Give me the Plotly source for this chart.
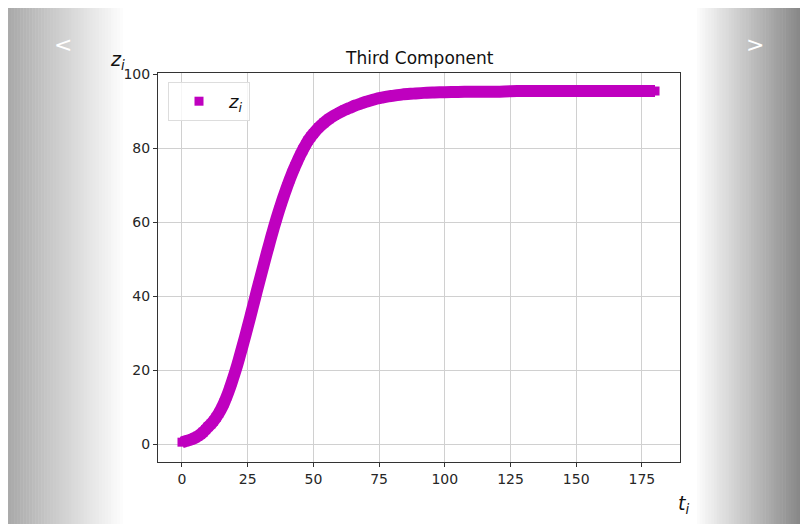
import plotly.graph_objects as go

# ---- data ----
t_vals = [0, 1, 2, 3, 4, 5, 6, 7, 8, 9, 10, 11, 12, 13, 14, 15, 16, 17, 18, 19,
          20, 21, 22, 23, 24, 25, 26, 27, 28, 29, 30, 31, 32, 33, 34, 35, 36, 37,
          38, 39, 40, 41, 42, 43, 44, 45, 46, 47, 48, 49, 50, 52, 54, 56, 58, 60,
          62, 64, 66, 68, 70, 72, 74, 76, 78, 80, 84, 88, 92, 96, 100, 105, 110,
          115, 120, 125, 130, 135, 140, 145, 150, 155, 160, 165, 170, 175, 180]
z_vals = [0.5, 0.7, 0.9, 1.1, 1.4, 1.7, 2.1, 2.6, 3.2, 3.9, 4.7, 5.4, 6.2, 7.2, 8.3,
          9.6, 11.1, 12.8, 14.7, 16.8, 19.0, 21.3, 23.8, 26.4, 29.0, 31.7, 34.4,
          37.2, 40.0, 42.8, 45.5, 48.2, 50.9, 53.5, 56.1, 58.6, 61.0, 63.3, 65.5,
          67.6, 69.6, 71.5, 73.3, 75.0, 76.6, 78.1, 79.5, 80.8, 82.0, 83.0, 83.9,
          85.5, 86.8, 87.9, 88.8, 89.6, 90.3, 90.9, 91.5, 92.0, 92.5, 92.9, 93.3,
          93.6, 93.9, 94.1, 94.5, 94.7, 94.9, 95.0, 95.1, 95.15, 95.2, 95.2, 95.2,
          95.35, 95.4, 95.4, 95.4, 95.4, 95.4, 95.4, 95.4, 95.4, 95.4, 95.4, 95.4]
x_ticks = [0, 25, 50, 75, 100, 125, 150, 175]
y_ticks = [0, 20, 40, 60, 80, 100]
title_text = "Third Component"
legend_label = "<i>z</i><sub><i>i</i></sub>"

# reference-page geometry (the page has an 8px body margin)
OFF = 8
W_REF, H_REF = 808, 524
L, R, T, B = 158, 680, 73, 462   # plot area in page pixels
def px(x):
    return (x - L) / (R - L)
def py(y):
    return (B - y) / (B - T)

MAG = "#bf00bf"

fig = go.Figure()
fig.add_trace(go.Scatter(x=t_vals, y=z_vals, mode="markers", name=legend_label,
                         marker=dict(symbol="square", size=9, color=MAG)))
fig.add_trace(go.Scatter(x=t_vals, y=z_vals, mode="lines",
                         line=dict(color=MAG, width=12, shape="spline", smoothing=0.6),
                         showlegend=False, hoverinfo="skip"))

shapes = []
N = 40
lx0, lx1 = 5, 126
for i in range(N):
    a = lx0 + (lx1 - lx0) * i / N
    b = lx0 + (lx1 - lx0) * (i + 1) / N
    f = i / (N - 1)
    g = int(168 + (255 - 168) * f)
    shapes.append(dict(type="rect", xref="paper", yref="paper", layer="below",
                       x0=px(a), x1=px(b) + 0.001, y0=py(H_REF + 5), y1=py(3),
                       line=dict(width=0), fillcolor=f"rgb({g},{g},{g})"))
rx0, rx1 = 694, 808
for i in range(N):
    a = rx0 + (rx1 - rx0) * i / N
    b = rx0 + (rx1 - rx0) * (i + 1) / N
    f = i / (N - 1)
    g = int(255 - (255 - 128) * f)
    shapes.append(dict(type="rect", xref="paper", yref="paper", layer="below",
                       x0=px(a), x1=px(b) + 0.001, y0=py(H_REF + 5), y1=py(3),
                       line=dict(width=0), fillcolor=f"rgb({g},{g},{g})"))

annotations = [
    dict(text=title_text, xref="paper", yref="paper", x=0.5, y=py(58),
         showarrow=False, font=dict(size=17, color="#111111"),
         xanchor="center", yanchor="middle"),
    dict(text="<i>z</i><sub><i>i</i></sub>", xref="paper", yref="paper",
         x=px(117), y=py(60), showarrow=False, font=dict(size=19, color="#111111"),
         xanchor="center", yanchor="middle"),
    dict(text="<i>t</i><sub><i>i</i></sub>", xref="paper", yref="paper",
         x=px(683), y=py(504), showarrow=False, font=dict(size=19, color="#111111"),
         xanchor="center", yanchor="middle"),
    dict(text="<", xref="paper", yref="paper", x=px(63), y=py(45),
         showarrow=False, font=dict(size=22, color="white"),
         xanchor="center", yanchor="middle"),
    dict(text=">", xref="paper", yref="paper", x=px(755), y=py(45),
         showarrow=False, font=dict(size=22, color="white"),
         xanchor="center", yanchor="middle"),
]

axis_common = dict(showgrid=True, gridcolor="#d0d0d0", gridwidth=1,
                   showline=True, linecolor="#333333", linewidth=1, mirror=True,
                   ticks="outside", ticklen=4, tickcolor="#333333",
                   tickfont=dict(size=14, color="#262626"), zeroline=False)

fig.update_layout(
    width=W_REF - OFF, height=H_REF - OFF,
    margin=dict(l=L - OFF, r=W_REF - R, t=T - OFF, b=H_REF - B),
    paper_bgcolor="white", plot_bgcolor="white",
    font=dict(family="DejaVu Sans"),
    xaxis=dict(range=[-9.13, 189.5], tickvals=x_ticks, **axis_common),
    yaxis=dict(range=[-4.86, 100.27], tickvals=y_ticks, **axis_common),
    showlegend=True,
    legend=dict(x=px(168), y=py(82), xanchor="left", yanchor="top",
                bgcolor="rgba(255,255,255,0.8)", bordercolor="#dddddd",
                borderwidth=1, itemwidth=50, font=dict(size=18, color="#111111")),
    shapes=shapes, annotations=annotations,
)

fig.write_html("out.html")
